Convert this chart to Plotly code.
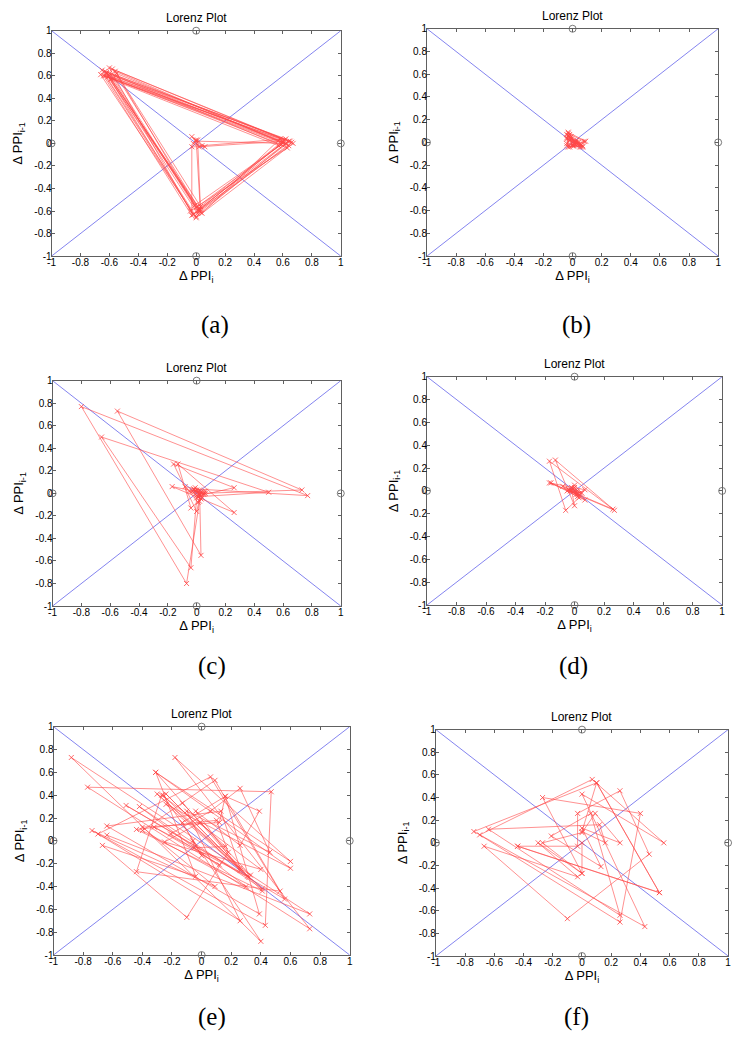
import plotly.graph_objects as go

# ---------------- data ----------------
tick_vals = [-1, -0.8, -0.6, -0.4, -0.2, 0, 0.2, 0.4, 0.6, 0.8, 1]
tick_text = ["-1", "-0.8", "-0.6", "-0.4", "-0.2", "0", "0.2", "0.4", "0.6", "0.8", "1"]
panel_labels = ["(a)", "(b)", "(c)", "(d)", "(e)", "(f)"]
plot_title = "Lorenz Plot"
x_title = "Δ PPI<sub>i</sub>"
y_title = "Δ PPI<sub>i-1</sub>"

diag_x = [-1, 1]
diag_y = [-1, 1]
anti_y = [1, -1]
ref_x = [0, 0, -1, 1]
ref_y = [1, -1, 0, 0]

# successive PPI differences (Lorenz plot: x = dPPI_i, y = dPPI_i-1)
dppi_a = [0.02, 0.0, 0.62, -0.6, 0.01, 0.6, -0.63, -0.02, 0.64, -0.56, 0.03, 0.61,
          -0.66, 0.0, 0.67, -0.6, -0.04, 0.63, -0.62, 0.04, 0.58, -0.57, 0.0, 0.6,
          -0.64, -0.03, -0.03, 0.06, -0.03, 0.02, 0.6, -0.6, 0.02, 0.65, -0.65, 0.0,
          0.62, -0.55, -0.01, 0.59, -0.61, 0.03, 0.0, -0.02, 0.04, 0.62, -0.62, 0.01,
          0.66, -0.58, 0.02, 0.64, -0.63, -0.02, 0.57, -0.59, 0.03, 0.01]
dppi_b = [0.0, 0.03, -0.04, 0.07, -0.04, -0.02, 0.06, -0.03, 0.01, 0.08, -0.03, -0.04,
          0.05, -0.02, 0.0, 0.04, -0.04, -0.03, 0.07, -0.02, 0.02, 0.03, -0.01, -0.04,
          0.06, -0.03, 0.0, 0.02, -0.02, 0.05, -0.01, 0.01, 0.09, -0.03, 0.0]
dppi_c = [0.0, 0.02, -0.01, 0.05, 0.26, -0.16, 0.0, 0.03, 0.73, -0.55, 0.03, 0.02,
          -0.03, 0.01, 0.5, -0.66, -0.04, 0.0, 0.06, -0.17, 0.26, -0.13, -0.04, 0.04,
          -0.02, 0.77, -0.8, -0.07, 0.02, 0.06, -0.08, 0.01, 0.03, -0.02, 0.0, 0.05,
          -0.01, 0.02, -0.05, 0.03, 0.0]
dppi_d = [0.0, 0.02, -0.03, 0.01, 0.07, -0.17, 0.27, -0.13, 0.0, -0.02, 0.04, -0.08,
          0.07, -0.16, 0.26, -0.17, -0.06, 0.03, -0.02, 0.05, 0.0, -0.03, 0.02, -0.01,
          0.01, -0.04, 0.03, 0.0, -0.05, 0.02]
dppi_e = [0.05, -0.64, 0.73, -0.88, 0.40, -0.26, 0.26, -0.04, 0.26, 0.39, 0.16, 0.12,
          -0.40, 0.09, -0.74, 0.43, 0.47, -0.77, 0.73, -0.18, 0.60, -0.31, 0.31, -0.51,
          0.56, 0.06, -0.70, 0.26, -0.10, 0.46, 0.26, 0.06, -0.21, 0.12, -0.32, 0.32,
          -0.24, 0.60, -0.31, -0.04, -0.67, -0.10, 0.18, 0.10, -0.44, 0.41, -0.24, 0.26,
          0.13, -0.64, 0.39, 0.16, -0.13, 0.0, -0.06, -0.05, 0.16, -0.01, -0.25, 0.40,
          -0.27, -0.44, 0.53, 0.09, -0.40, 0.30, -0.42, 0.41, -0.30, 0.33, -0.13]
dppi_f = [-0.03, -0.44, 0.53, 0.10, -0.74, 0.43, 0.0, 0.56, 0.07, -0.70, 0.26, 0.40,
          -0.27, 0.0, -0.30, -0.03, -0.67, -0.10, 0.46, 0.26, -0.03, -0.03, -0.44, 0.53,
          0.10, 0.0, 0.16, 0.12, -0.64, 0.26, 0.06, -0.21, 0.13, 0.0, 0.26, 0.09, 0.0,
          -0.27, 0.0, 0.0]

series = [dppi_a, dppi_b, dppi_c, dppi_d, dppi_e, dppi_f]

# ---------------- layout geometry (pixels) ----------------
W, H = 741, 1050
boxes = [(48, 340, 25, 253), (427, 721, 23, 253),
         (49, 340, 379, 607), (427, 725, 375, 606),
         (50, 349, 729, 960), (436, 731, 732, 961)]
label_pos = [(213, 323), (578, 323), (210, 668), (575, 668), (210, 1023), (578, 1023)]

AX_COL = "#606060"
RED = "rgb(255,70,70)"
BLUE = "rgb(100,100,235)"
SANS = "Liberation Sans, Arial, sans-serif"

fig = go.Figure()
layout = dict(width=W, height=H, margin=dict(l=0, r=0, t=0, b=0),
              paper_bgcolor="white", plot_bgcolor="white", showlegend=False,
              annotations=[])

for i, (d, box, lab, lp) in enumerate(zip(series, boxes, panel_labels, label_pos)):
    n = "" if i == 0 else str(i + 1)
    xa, ya = "x" + n, "y" + n
    x0, x1, y0, y1 = box
    xdom = [x0 / W, x1 / W]
    ydom = [1 - y1 / H, 1 - y0 / H]

    fig.add_trace(go.Scatter(x=diag_x, y=diag_y, mode="lines", xaxis=xa, yaxis=ya,
                             line=dict(color=BLUE, width=0.8), hoverinfo="skip"))
    fig.add_trace(go.Scatter(x=diag_x, y=anti_y, mode="lines", xaxis=xa, yaxis=ya,
                             line=dict(color=BLUE, width=0.8), hoverinfo="skip"))
    fig.add_trace(go.Scatter(x=d[1:], y=d[:-1], mode="lines+markers", xaxis=xa, yaxis=ya,
                             line=dict(color=RED, width=0.6),
                             marker=dict(symbol="x-thin", size=5, color=RED,
                                         line=dict(color=RED, width=0.8))))
    fig.add_trace(go.Scatter(x=ref_x, y=ref_y, mode="markers", xaxis=xa, yaxis=ya,
                             cliponaxis=False,
                             marker=dict(symbol="circle-open", size=7, color="#444444",
                                         line=dict(color="#444444", width=0.7))))

    common = dict(range=[-1, 1], tickvals=tick_vals, ticktext=tick_text,
                  showline=True, linecolor=AX_COL, linewidth=1, mirror="ticks",
                  ticks="inside", ticklen=3, tickcolor=AX_COL, tickwidth=1,
                  showgrid=False, zeroline=False, fixedrange=True,
                  ticklabelstandoff=-3,
                  tickfont=dict(family=SANS, size=10, color="black"))
    layout["xaxis" + n] = dict(common, domain=xdom, anchor=ya,
                               title=dict(text=x_title, standoff=1,
                                          font=dict(family=SANS, size=13, color="black")))
    layout["yaxis" + n] = dict(common, domain=ydom, anchor=xa,
                               title=dict(text=y_title, standoff=8,
                                          font=dict(family=SANS, size=13, color="black")))

    layout["annotations"].append(dict(
        text=plot_title, x=(x0 + x1) / 2 / W, y=1 - (y0 - 4) / H,
        xref="paper", yref="paper", xanchor="center", yanchor="bottom",
        showarrow=False, font=dict(family=SANS, size=12, color="black")))
    layout["annotations"].append(dict(
        text=lab, x=lp[0] / W, y=1 - lp[1] / H, xref="paper", yref="paper",
        xanchor="center", yanchor="middle", showarrow=False,
        font=dict(family="Liberation Serif, Times New Roman, serif", size=25, color="black")))

fig.update_layout(**layout)
fig.write_html("out.html", config={"displayModeBar": False},
               post_script="document.body.style.margin='0';document.body.style.overflow='hidden';")
